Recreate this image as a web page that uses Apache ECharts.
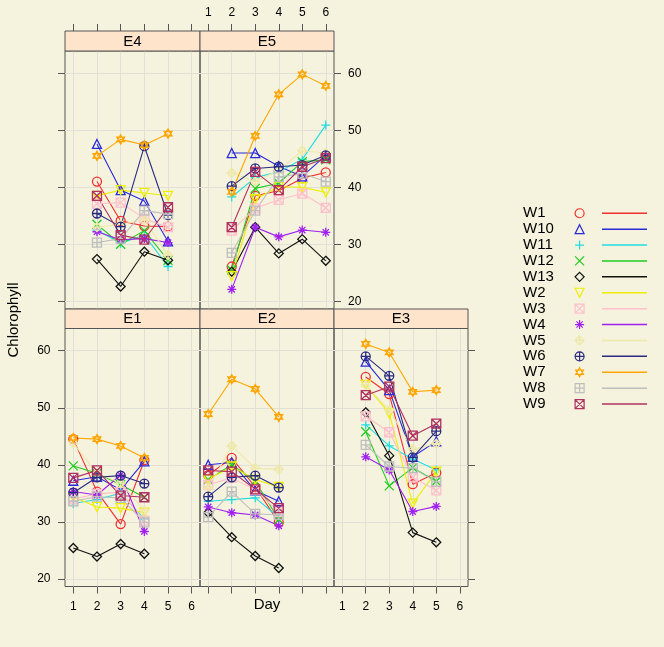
<!DOCTYPE html>
<html><head><meta charset="utf-8">
<script src="https://cdn.jsdelivr.net/npm/echarts@6/dist/echarts.min.js"></script>
<style>html,body{margin:0;padding:0;background:#f5f3dd}#c{width:664px;height:647px}</style>
</head><body><div id="c"></div>
<script>
// ---------------- data ----------------
const seriesNames = ['W1','W10','W11','W12','W13','W2','W3','W4','W5','W6','W7','W8','W9'];
const panelNames = ['E4','E5','E1','E2','E3'];
const xTicks = [1,2,3,4,5,6];
const yTicks = [20,30,40,50,60];

const daysE4 = [2,3,4,5];
const daysE5 = [2,3,4,5,6];
const daysE1 = [1,2,3,4];
const daysE2 = [1,2,3,4];
const daysE3 = [2,3,4,5];

// rows in seriesNames order
const valuesE4 = [
  [41.0, 34.1, 33.2, 33.1],
  [47.6, 39.5, 37.6, 30.5],
  [32.5, 30.2, 31.6, 26.1],
  [33.5, 30.0, 32.4, 27.2],
  [27.4, 22.6, 28.7, 27.2],
  [38.5, 39.5, 39.0, 38.5],
  [37.1, 37.3, 34.5, 33.0],
  [32.2, 30.8, 31.0, 30.3],
  [33.0, 33.5, 34.3, 28.1],
  [35.4, 33.1, 47.2, 35.1],
  [45.5, 48.4, 47.4, 49.4],
  [30.3, 31.0, 35.9, 35.3],
  [38.5, 31.6, 30.8, 36.5]
];
const valuesE5 = [
  [26.1, 38.5, 39.4, 41.6, 42.6],
  [46.0, 46.0, 43.7, 41.9, 45.6],
  [38.3, 41.7, 42.7, 44.9, 50.9],
  [25.5, 39.8, 40.7, 44.5, 44.8],
  [25.2, 33.0, 28.4, 30.9, 27.1],
  [24.4, 37.9, 40.1, 40.0, 39.1],
  [32.4, 36.3, 37.8, 38.9, 36.4],
  [22.1, 33.0, 31.3, 32.5, 32.1],
  [42.5, 41.0, 43.0, 46.4, 46.0],
  [40.2, 43.3, 43.6, 43.9, 45.6],
  [39.2, 49.0, 56.3, 59.8, 57.8],
  [28.5, 35.9, 41.8, 42.4, 41.0],
  [33.0, 42.7, 39.5, 43.6, 45.1]
];
const valuesE1 = [
  [44.5, 35.3, 29.6, 40.8],
  [37.2, 37.9, 35.6, 40.6],
  [33.2, 33.9, 35.0, 30.5],
  [39.8, 38.5, 36.5, 34.3],
  [25.4, 23.9, 26.1, 24.4],
  [34.4, 32.6, 32.4, 31.6],
  [34.0, 34.9, 35.2, 30.2],
  [35.3, 34.7, 38.2, 28.3],
  [43.8, 38.5, 36.8, 32.0],
  [35.1, 37.8, 38.1, 36.7],
  [44.7, 44.5, 43.3, 41.2],
  [33.6, 34.4, 34.2, 29.9],
  [37.7, 39.0, 34.6, 34.3]
];
const valuesE2 = [
  [38.2, 41.2, 36.1, 29.9],
  [40.0, 40.4, 35.5, 33.6],
  [33.6, 33.9, 34.2, 30.8],
  [37.4, 40.0, 37.1, 30.4],
  [31.6, 27.3, 24.0, 21.9],
  [37.4, 39.7, 37.4, 36.1],
  [36.5, 37.7, 35.6, 31.7],
  [32.6, 31.6, 31.2, 29.3],
  [35.9, 43.3, 39.4, 39.2],
  [34.4, 37.8, 38.1, 36.0],
  [48.9, 55.0, 53.3, 48.4],
  [30.8, 35.3, 31.4, 31.2],
  [39.0, 38.8, 35.7, 32.4]
];
const valuesE3 = [
  [55.4, 52.4, 36.6, 38.6],
  [58.1, 53.1, 41.4, 44.1],
  [47.0, 43.3, 41.0, 39.1],
  [45.8, 36.3, 39.5, 37.1],
  [49.2, 41.6, 28.1, 26.4],
  [54.0, 49.0, 33.2, 38.8],
  [48.5, 45.7, 37.8, 35.5],
  [41.4, 39.1, 31.8, 32.7],
  [54.0, 49.6, 42.7, 43.7],
  [59.0, 55.6, 41.3, 45.9],
  [61.2, 59.7, 52.8, 53.1],
  [43.5, 39.7, 39.4, 37.0],
  [52.2, 53.7, 45.1, 47.2]
];
const panelDays = [daysE4, daysE5, daysE1, daysE2, daysE3];
const panelValues = [valuesE4, valuesE5, valuesE1, valuesE2, valuesE3];

// ---------------- styles ----------------
const FONT = '"Liberation Sans", Arial, Helvetica, sans-serif';
const BORDER = '#555555';
const seriesColors = ['#f03030','#2a2ad8','#20dde0','#20cc20','#111111','#eeee00','#ffc0cb','#a020f0','#eee8aa','#2a2a80','#ffa500','#bebebe','#b03060'];
const seriesSymbols = [
  'circle',
  'triangle',
  'path://M5,0L5,10M0,5L10,5',
  'path://M0,0L10,10M0,10L10,0',
  'diamond',
  'path://M0,0L10,0L5,10Z',
  'path://M0,0L10,0L10,10L0,10ZM0,0L10,10M10,0L0,10',
  'path://M5,0L5,10M0,5L10,5M1.5,1.5L8.5,8.5M8.5,1.5L1.5,8.5',
  'path://M5,0L10,5L5,10L0,5ZM5,0L5,10M0,5L10,5',
  'path://M0,5A5,5 0 1,0 10,5A5,5 0 1,0 0,5ZM5,0L5,10M0,5L10,5',
  'path://M5,0L9.33,7.5L0.67,7.5ZM5,10L0.67,2.5L9.33,2.5Z',
  'path://M0,0L10,0L10,10L0,10ZM5,0L5,10M0,5L10,5',
  'path://M0,0L10,0L10,10L0,10ZM0,0L10,10M10,0L0,10'
];
const layout = [
  {grid:{left:65, top:51, width:135, height:258}, strip:[65,31,135,20], x:{pos:'top', labels:false, offset:20}, y:{pos:'left', labels:false}},
  {grid:{left:200, top:51, width:134, height:258}, strip:[200,31,134,20], x:{pos:'top', labels:true, offset:20}, y:{pos:'right', labels:true}},
  {grid:{left:65, top:328.5, width:135, height:258}, strip:[65,309,135,19.5], x:{pos:'bottom', labels:true, offset:0}, y:{pos:'left', labels:true}},
  {grid:{left:200, top:328.5, width:134, height:258}, strip:[200,309,134,19.5], x:{pos:'bottom', labels:false, offset:0}, y:null},
  {grid:{left:334, top:328.5, width:134, height:258}, strip:[334,309,134,19.5], x:{pos:'bottom', labels:true, offset:0}, y:{pos:'right', labels:false}}
];

const grids = [], xAxes = [], yAxes = [], series = [], graphics = [];
layout.forEach((L, i) => {
  grids.push(Object.assign({show:true, borderColor:BORDER, borderWidth:1, backgroundColor:'rgba(0,0,0,0)'}, L.grid));
  xAxes.push({
    gridIndex:i, type:'value', min:0.65, max:6.35, position:L.x.pos, offset:L.x.offset,
    axisLine:{show:false}, splitLine:{show:false},
    axisTick:{show:true, length:7, customValues:xTicks, lineStyle:{color:BORDER}},
    axisLabel:{show:L.x.labels, customValues:xTicks, margin:L.x.pos==='top'?12:14, fontSize:12, color:'#000', fontFamily:FONT}
  });
  if (L.y) {
    yAxes.push({
      gridIndex:i, type:'value', min:18.65, max:63.9, position:L.y.pos,
      axisLine:{show:false}, splitLine:{show:false},
      axisTick:{show:true, length:7, customValues:yTicks, lineStyle:{color:BORDER}},
      axisLabel:{show:L.y.labels, customValues:yTicks, margin:L.y.pos==='left'?14.5:14, fontSize:12, color:'#000', fontFamily:FONT}
    });
  } else {
    yAxes.push({gridIndex:i, type:'value', min:18.65, max:63.9, show:false});
  }
  // reference grid lines
  series.push({
    name:'_grid'+i, type:'line', xAxisIndex:i, yAxisIndex:i, data:[], silent:true, z:1,
    markLine:{silent:true, symbol:['none','none'], label:{show:false}, animation:false,
      lineStyle:{type:'solid', width:1, color:'#e0e0d6'}, emphasis:{disabled:true},
      data:[...xTicks.map(v=>({xAxis:v})), ...yTicks.map(v=>({yAxis:v}))]}
  });
  // strip
  const s = L.strip;
  graphics.push({type:'rect', shape:{x:s[0], y:s[1], width:s[2], height:s[3]}, style:{fill:'#ffe4cc', stroke:BORDER, lineWidth:1}, z:10});
  graphics.push({type:'text', x:s[0]+s[2]/2, y:s[1]+s[3]/2+0.5, style:{text:panelNames[i], font:'15px '+FONT, fill:'#000', align:'center', verticalAlign:'middle'}, z:11});
  // data series
  seriesNames.forEach((nm, k) => {
    series.push({
      name:nm, type:'line', xAxisIndex:i, yAxisIndex:i, z:10, silent:true,
      data: panelDays[i].map((d, j) => [d, panelValues[i][k][j]]),
      symbol: seriesSymbols[k], symbolSize:9, symbolKeepAspect:true, showAllSymbol:true,
      lineStyle:{color:seriesColors[k], width:1.1},
      itemStyle:{color:'rgba(0,0,0,0)', borderColor:seriesColors[k], borderWidth:1.3},
      emphasis:{disabled:true}
    });
  });
});

graphics.push({type:'text', x:267, y:605, style:{text:'Day', font:'15px '+FONT, fill:'#000', align:'center', verticalAlign:'middle'}});
graphics.push({type:'text', x:14, y:320, rotation:Math.PI/2, style:{text:'Chlorophyll', font:'15px '+FONT, fill:'#000', align:'center', verticalAlign:'middle'}});

const legendCommon = {orient:'vertical', top:205.3, padding:0, itemGap:0, selectedMode:false,
  textStyle:{fontSize:15, lineHeight:15.9, color:'#000', fontFamily:FONT}};
const legends = [
  Object.assign({}, legendCommon, {left:518, itemWidth:0, itemHeight:9, icon:'rect',
    data: seriesNames.map(n => ({name:n, itemStyle:{color:'rgba(0,0,0,0)', borderWidth:0}}))}),
  Object.assign({}, legendCommon, {left:574.5, itemWidth:9, itemHeight:9, formatter:() => ' ',
    data: seriesNames.map((n,k) => ({name:n, icon:seriesSymbols[k], itemStyle:{color:'rgba(0,0,0,0)', borderColor:seriesColors[k], borderWidth:1.2}}))}),
  Object.assign({}, legendCommon, {left:602, itemWidth:45, itemHeight:1.5, icon:'rect', formatter:() => ' ',
    data: seriesNames.map((n,k) => ({name:n, itemStyle:{color:seriesColors[k], borderWidth:0}}))})
];

const chart = echarts.init(document.getElementById('c'), null, {renderer:'canvas'});
chart.setOption({
  backgroundColor:'#f5f3dd',
  animation:false,
  grid:grids, xAxis:xAxes, yAxis:yAxes, series:series, legend:legends, graphic:graphics
});
</script></body></html>
